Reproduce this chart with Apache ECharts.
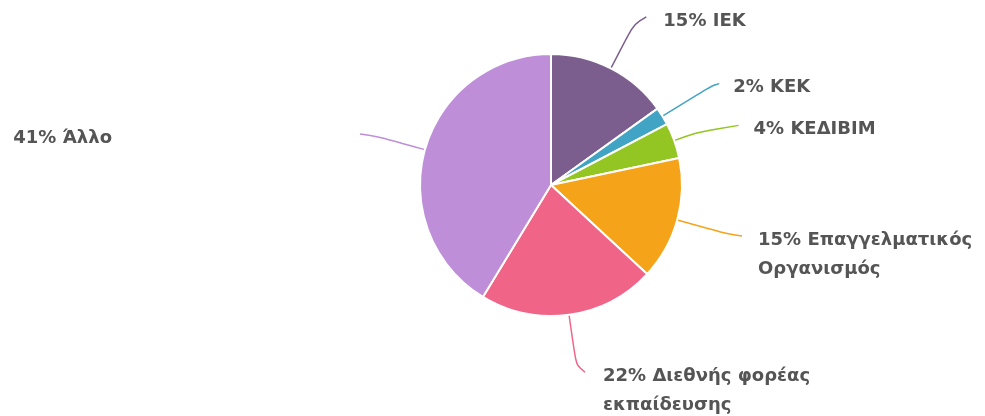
<!DOCTYPE html>
<html>
<head>
<meta charset="utf-8">
<script src="https://cdn.jsdelivr.net/npm/echarts@6/dist/echarts.min.js"></script>
<style>
html,body{margin:0;padding:0;background:#fff;}
#chart{width:985px;height:416px;}
</style>
</head>
<body>
<div id="chart"></div>
<script>
const categories = ['ΙΕΚ', 'ΚΕΚ', 'ΚΕΔΙΒΙΜ', 'Επαγγελματικός Οργανισμός', 'Διεθνής φορέας εκπαίδευσης', 'Άλλο'];
const values = [15.1, 2.2, 4.4, 15.2, 21.8, 41.3];
const palette = ['#7b5e8d', '#42a4c4', '#93c623', '#f5a41a', '#f06487', '#be8fd8'];
// label line geometry per slice: radial length, horizontal length, gap to text
const labelGeom = [
  { length: 58, length2: 9, gap: 17 },
  { length: 62, length2: 4, gap: 14 },
  { length: 45, length2: 22, gap: 15 },
  { length: 60, length2: 7, gap: 16 },
  { length: 58, length2: 8, gap: 18 },
  { length: 58, length2: 9, gap: 248 }
];

const textBase = { fontFamily: 'DejaVu Sans', fontWeight: 'bold', fontSize: 18, color: '#555555' };

const chart = echarts.init(document.getElementById('chart'), null, { renderer: 'canvas' });
const data = categories.map((name, i) => {
  const g = labelGeom[i];
  return {
    name: name,
    value: values[i],
    itemStyle: { color: palette[i] },
    label: { distanceToLabelLine: g.gap },
    labelLine: { length: g.length, length2: g.length2 }
  };
});

function labelText(p) {
  const full = Math.round(p.percent) + '% ' + p.name;
  if (full.length > 22) {
    const k = full.lastIndexOf(' ');
    return '{a|' + full.slice(0, k) + '}\n{b|' + full.slice(k + 1) + '}';
  }
  return '{s|' + full + '}';
}

chart.setOption({
  animation: false,
  backgroundColor: '#ffffff',
  series: [{
    type: 'pie',
    center: [551, 185],
    radius: 131,
    startAngle: 90,
    clockwise: true,
    avoidLabelOverlap: false,
    itemStyle: { borderColor: '#ffffff', borderWidth: 2 },
    label: Object.assign({
      show: true,
      position: 'outside',
      alignTo: 'none',
      formatter: labelText,
      rich: {
        s: Object.assign({ padding: [8, 0, 0, 0] }, textBase),
        a: Object.assign({ padding: [37, 0, 0, 0] }, textBase),
        b: Object.assign({ padding: [11, 0, 0, 0] }, textBase)
      }
    }, textBase),
    labelLine: {
      show: true,
      smooth: 1,
      lineStyle: { width: 1.5 }
    },
    emphasis: { disabled: true },
    data: data
  }]
});
</script>
</body>
</html>
